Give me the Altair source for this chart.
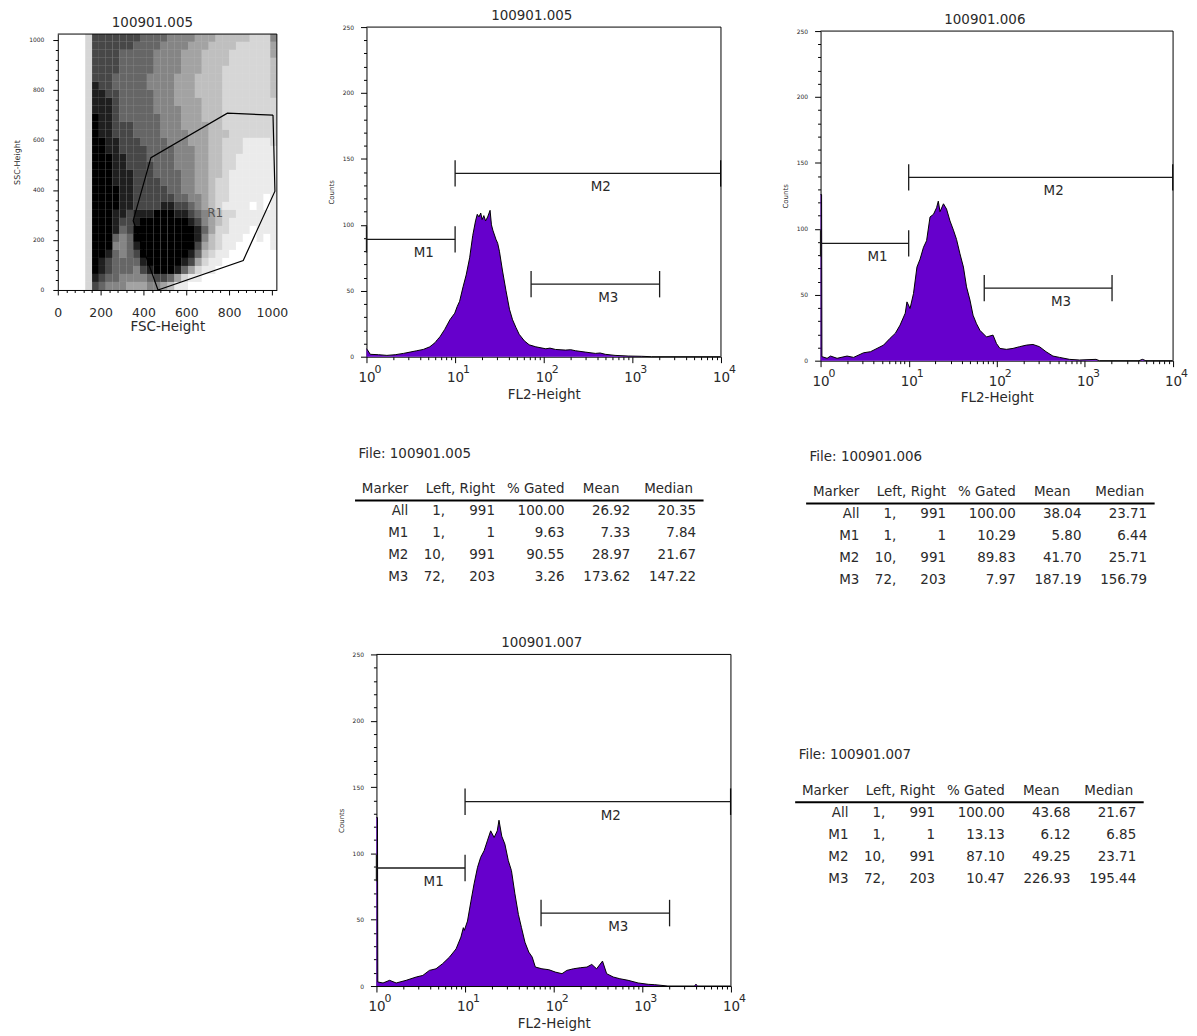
import math
import pandas as pd
import altair as alt

FONT = "DejaVu Sans"
TXT = "#2a2a2a"
FILL = "#6600cc"

# ---------------- scatter plot (FSC-Height vs SSC-Height), 100901.005 ----------------
SCATTER_FILE = "100901.005"
# darkness, 0 (empty) .. 9 (solid black)
# row 0 = top (SSC 992-1023), column 0 = FSC 0-31, 32 channels per cell
SCATTER_DENSITY = [
    "00002" "77777" "776666555544" "4333332225",
    "00002" "77777" "766665555444" "3333222224",
    "00002" "77776" "666655554443" "3332222224",
    "00002" "77776" "666655554443" "3332222223",
    "00002" "77776" "666655554443" "3322222223",
    "00002" "77766" "666555544433" "3322222223",
    "00002" "87766" "666555544433" "3322222223",
    "00002" "88776" "666655544433" "3322222223",
    "00002" "88876" "666655544443" "3322222222",
    "00002" "88876" "666655554443" "3322222222",
    "00002" "98876" "666665554443" "3322222222",
    "00002" "98877" "766665554444" "3322222222",
    "00002" "98877" "766665555444" "3332222222",
    "00002" "99887" "776666555444" "3322211112",
    "00002" "99887" "777666655544" "3322211111",
    "00002" "99988" "777666655544" "3322111111",
    "00002" "99988" "777766655544" "3322111111",
    "00002" "99988" "877766665544" "3321111111",
    "00002" "99988" "877776665544" "3221111111",
    "00002" "99998" "877777665544" "3221111111",
    "00002" "99998" "877777766554" "3221111101",
    "00002" "99998" "877778877654" "3211110101",
    "00002" "99988" "788899988765" "4322111111",
    "00002" "99987" "789999999875" "4321111111",
    "00002" "99986" "799999999986" "4221110111",
    "00002" "99965" "699999999985" "3211100101",
    "00002" "99955" "689999999974" "3211000001",
    "00002" "99865" "679999999863" "2110000000",
    "00002" "98766" "668999998742" "1100000000",
    "00002" "98766" "657899986421" "1000000000",
    "00002" "87665" "555677642110" "0000000000",
    "00002" "76555" "444554311000" "0000000000",
]
GATE_FSC = [1005, 792, 435, 352, 468, 866, 1014, 1005]
GATE_SSC = [699, 707, 529, 277, 0, 118, 395, 699]
GATE_NAME = ["R1"]
GATE_NAME_FSC = [735]
GATE_NAME_SSC = [306]

# ---------------- histograms: (channel 0..1023, counts) ----------------
HIST_005 = [
    (0, 6), (2, 5.5), (11, 1.8), (35, 1.5), (59, 1), (83, 1.5), (107, 2.5), (126, 3.5),
    (145, 4.5), (164, 5.5), (183, 7.5), (190, 9), (198, 10.6), (205, 13), (212, 15),
    (226, 20.7), (241, 28), (255, 33), (262, 38), (269, 42), (279, 53), (288, 62),
    (298, 75), (307, 92), (315, 103), (320, 108), (325, 106), (330, 109), (334, 104),
    (339, 107), (344, 103), (350, 106), (357, 111), (361, 100), (365, 96), (374, 89),
    (379, 86), (384, 80), (393, 65), (403, 50), (413, 36), (422, 28), (432, 22),
    (441, 17), (456, 12), (470, 9), (489, 7.5), (518, 6), (530, 6.5), (546, 5.5),
    (575, 5), (590, 5.3), (604, 4.5), (632, 3.5), (661, 2.5), (675, 2.8), (690, 1.8),
    (718, 1), (756, 0.5), (795, 0.3), (823, 0), (1023, 0),
]
HIST_006 = [
    (0, 126), (3, 126), (4, 3), (5, 3), (19, 1.8), (29, 3.5), (48, 1.8), (77, 3.5), (96, 2.5),
    (125, 6), (145, 6.8), (164, 9.3), (183, 11.8), (202, 17), (217, 20.7), (231, 27),
    (246, 36), (251, 44.6), (260, 39.6), (270, 51), (280, 71), (289, 77), (299, 86),
    (308, 91), (318, 109), (328, 111), (337, 116), (342, 121), (347, 113), (357, 119),
    (366, 115), (376, 106), (386, 99), (395, 92), (405, 81), (415, 71), (424, 56),
    (434, 46), (443, 34.5), (453, 28), (463, 23), (482, 18), (501, 19.4), (511, 13),
    (521, 9.3), (540, 8.6), (559, 9.3), (578, 10.6), (598, 11.8), (617, 12.3),
    (636, 10.6), (655, 6.8), (675, 3.5), (694, 2.5), (723, 1), (752, 0.5), (800, 1),
    (810, 0), (925, 0), (935, 1), (945, 0), (1023, 0),
]
HIST_007 = [
    (0, 127), (3, 127), (4, 3), (5, 3), (19, 2.3), (38, 4.3), (57, 2.3), (86, 4.3), (115, 6.8),
    (134, 8), (153, 11.8), (172, 13), (191, 16.8), (211, 21.8), (230, 28), (244, 36.9),
    (251, 44), (254, 42), (263, 49), (273, 64), (282, 77), (292, 89.5), (301, 97),
    (311, 102), (321, 110), (330, 117), (340, 112), (349, 117), (354, 125), (362, 113),
    (371, 107), (381, 94.5), (390, 87), (400, 69.5), (410, 54), (419, 44), (429, 33),
    (440, 25.6), (450, 21.8), (459, 14.3), (478, 13), (498, 12.3), (517, 10.5),
    (536, 9.3), (550, 11.8), (569, 13), (589, 13.8), (608, 14.3), (622, 16.3),
    (636, 13), (653, 18.8), (665, 9.3), (684, 6.8), (703, 5.5), (727, 4.3), (756, 2.3),
    (785, 1.3), (804, 1), (842, 0), (918, 0), (923, 1.3), (928, 0), (1023, 0),
]

MARKER_NAMES = ["M1", "M2", "M3"]
MARKER_LEFT = [1, 10, 72]
MARKER_RIGHT = [10, 9910, 2030]

# ---------------- statistics tables ----------------
HEADERS = ["Marker", "Left, Right", "% Gated", "Mean", "Median"]
ROW_NAMES = ["All", "M1", "M2", "M3"]
LEFTS = ["1,", "1,", "10,", "72,"]
RIGHTS = ["991", "1", "991", "203"]
GATED_005 = ["100.00", "9.63", "90.55", "3.26"]
MEAN_005 = ["26.92", "7.33", "28.97", "173.62"]
MEDIAN_005 = ["20.35", "7.84", "21.67", "147.22"]
GATED_006 = ["100.00", "10.29", "89.83", "7.97"]
MEAN_006 = ["38.04", "5.80", "41.70", "187.19"]
MEDIAN_006 = ["23.71", "6.44", "25.71", "156.79"]
GATED_007 = ["100.00", "13.13", "87.10", "10.47"]
MEAN_007 = ["43.68", "6.12", "49.25", "226.93"]
MEDIAN_007 = ["21.67", "6.85", "23.71", "195.44"]

# ---------------- styling / layout constants ----------------
MARKER_LEVEL = [89, 139, 55]
TICK_HALF = 10
OPAC = [0, 0.08, 0.16, 0.25, 0.36, 0.48, 0.6, 0.72, 0.88, 1.0]
COL_X = {"Marker": 54, "Left": 91, "Right": 141, "Gated": 211, "Mean": 277, "Median": 343}
HEAD_X = [54, 141, 211, 266, 340]
TABLE_W = 350

for s in SCATTER_DENSITY:
    assert len(s) == 32, s


def tick_cond(test, major, minor):
    return {"condition": {"test": test, "value": major}, "value": minor}


def ttl(text, dx, dy, offset, anchor="middle"):
    return alt.TitleParams(text, frame="group", anchor=anchor, dx=dx, dy=dy, offset=offset,
                           fontSize=13.5, font=FONT, fontWeight="normal", color=TXT)


def spacer(w, h):
    return alt.Chart(pd.DataFrame({"s": [0]})).mark_point(opacity=0).properties(
        width=w, height=h, view=alt.ViewBackground(stroke="transparent"))


def frame_layers(X, Y, xmin, xmax, ymin, ymax):
    top = alt.Chart(pd.DataFrame({"x": [xmin], "x2": [xmax], "y": [ymax]})).mark_rule(
        color="black", strokeWidth=1).encode(x=X("x"), x2="x2", y=Y("y"))
    right = alt.Chart(pd.DataFrame({"x": [xmax], "y": [ymin], "y2": [ymax]})).mark_rule(
        color="black", strokeWidth=1).encode(x=X("x"), y=Y("y"), y2="y2")
    return [top, right]


# ---------- scatter ----------
def scatter_chart(w, h, ox, oy):
    cells = []
    for r, row in enumerate(SCATTER_DENSITY):
        for c, ch in enumerate(row):
            d = int(ch)
            if d == 0:
                continue
            cells.append({"x": c * 32, "x2": min(c * 32 + 32, 1023),
                          "y": 1024 - (r + 1) * 32, "y2": min(1024 - r * 32, 1023), "op": OPAC[d]})
    cdf = pd.DataFrame(cells)
    gdf = pd.DataFrame({"x": GATE_FSC, "y": GATE_SSC, "i": list(range(len(GATE_FSC)))})
    ldf = pd.DataFrame({"x": GATE_NAME_FSC, "y": GATE_NAME_SSC, "t": GATE_NAME})
    sx = alt.Scale(domain=[0, 1023], nice=False, zero=False, range=[ox, ox + w])
    sy = alt.Scale(domain=[0, 1023], nice=False, zero=False, range=[oy + h, oy])
    maj = "datum.value % 200 === 0"
    ax = alt.Axis(values=list(range(0, 1001, 40)), labelExpr=f"{maj} ? '' + datum.value : ''",
                  tickSize=tick_cond(maj, 5, 2.5), labelFontSize=12.5, labelPadding=12,
                  labelFlush=False, labelOverlap=False, title="FSC-Height",
                  titleFontSize=13.5, titlePadding=0)
    ay = alt.Axis(values=list(range(0, 1001, 40)), labelExpr=f"{maj} ? '' + datum.value : ''",
                  tickSize=tick_cond(maj, 5, 2.5), labelFontSize=6, labelPadding=9,
                  labelOverlap=False, title="SSC-Height", titleFontSize=8, titlePadding=7,
                  offset=-ox)
    X = lambda f: alt.X(f, type="quantitative", scale=sx, axis=ax)
    Y = lambda f: alt.Y(f, type="quantitative", scale=sy, axis=ay)
    rects = alt.Chart(cdf).mark_rect(color="black").encode(
        x=X("x"), x2="x2", y=Y("y"), y2="y2", opacity=alt.Opacity("op:Q", scale=None, legend=None))
    gate = alt.Chart(gdf).mark_line(color="black", strokeWidth=1.2).encode(
        x=X("x"), y=Y("y"), order="i:Q")
    lab = alt.Chart(ldf).mark_text(fontSize=12, font=FONT, color="#555").encode(
        x=X("x"), y=Y("y"), text="t:N")
    layers = [rects, gate, lab] + frame_layers(X, Y, 0, 1023, 0, 1023)
    return alt.layer(*layers).properties(
        width=ox + w, height=oy + h,
        title=ttl(SCATTER_FILE, -15 + ox / 2, max(0, oy - 3), 2),
        view=alt.ViewBackground(stroke="transparent"))


# ---------- histograms ----------
LOG_MAJOR = [1, 10, 100, 1000, 10000]
LOG_TICKS = sorted(set([k * 10 ** d for d in range(4) for k in range(1, 10)] + [10000]))
MAJ = "indexof([1,10,100,1000,10000], datum.value) >= 0"


def hist_chart(fname, pairs, w, h, ox, oy):
    xs = alt.Scale(type="log", domain=[1, 10000], nice=False, range=[ox, ox + w])
    ys = alt.Scale(domain=[0, 250], nice=False, zero=False, range=[oy + h, oy])
    xa = alt.Axis(values=LOG_TICKS, labelExpr=f"{MAJ} ? '10' : ''", tickSize=tick_cond(MAJ, 6, 3),
                  labelFontSize=13.5, labelPadding=8, labelFlush=False, labelOverlap=False,
                  title="FL2-Height", titleFontSize=13.5, titlePadding=3)
    ymaj = "datum.value % 50 === 0"
    ya = alt.Axis(values=list(range(0, 251, 10)), labelExpr=f"{ymaj} ? '' + datum.value : ''",
                  tickSize=tick_cond(ymaj, 6, 3), labelFontSize=6, labelPadding=7,
                  labelOverlap=False, title="Counts", titleFontSize=7, titlePadding=8,
                  offset=-ox)
    X = lambda f: alt.X(f, type="quantitative", scale=xs, axis=xa)
    Y = lambda f: alt.Y(f, type="quantitative", scale=ys, axis=ya)

    df = pd.DataFrame({"x": [10 ** (c / 256) for c, _ in pairs], "y": [v for _, v in pairs]})
    area = alt.Chart(df).mark_area(color=FILL, opacity=1, fillOpacity=1, interpolate="linear",
                                   line={"color": "black", "strokeWidth": 1}).encode(x=X("x"), y=Y("y"))
    mk = pd.DataFrame({"x": MARKER_LEFT, "x2": MARKER_RIGHT, "y": MARKER_LEVEL})
    hrule = alt.Chart(mk).mark_rule(color="#1a1a1a", strokeWidth=1.3).encode(x=X("x"), x2="x2", y=Y("y"))
    ends = pd.DataFrame({"x": MARKER_LEFT + MARKER_RIGHT,
                         "y": [l - TICK_HALF for l in MARKER_LEVEL] * 2,
                         "y2": [l + TICK_HALF for l in MARKER_LEVEL] * 2})
    vrule = alt.Chart(ends).mark_rule(color="#1a1a1a", strokeWidth=1.3).encode(x=X("x"), y=Y("y"), y2="y2")
    lbl = pd.DataFrame({"x": [math.sqrt(a * b) for a, b in zip(MARKER_LEFT, MARKER_RIGHT)],
                        "y": MARKER_LEVEL, "t": MARKER_NAMES})
    labels = alt.Chart(lbl).mark_text(dx=13, dy=14, fontSize=13.5, font=FONT, color=TXT).encode(
        x=X("x"), y=Y("y"), text="t:N")
    edf = pd.DataFrame({"x": LOG_MAJOR, "t": ["0", "1", "2", "3", "4"]})
    exps = alt.Chart(edf).mark_text(align="left", baseline="middle", dx=8, fontSize=11,
                                    font=FONT, color=TXT).encode(
        x=X("x"), y=alt.value(oy + h + 13), text="t:N")
    layers = [area, hrule, vrule, labels, exps] + frame_layers(X, Y, 1, 10000, 0, 250)
    return alt.layer(*layers).properties(
        width=ox + w, height=oy + h,
        title=ttl(fname, -12 + ox / 2, max(0, oy - 3), 2),
        view=alt.ViewBackground(stroke="transparent"))


# ---------- tables ----------
def table_chart(fname, gated, mean, median, ox, oy, w, h):
    recs = []
    for i, r in enumerate(ROW_NAMES):
        for key, val in (("Marker", r), ("Left", LEFTS[i]), ("Right", RIGHTS[i]),
                         ("Gated", gated[i]), ("Mean", mean[i]), ("Median", median[i])):
            recs.append({"row": r, "xp": COL_X[key], "txt": val})
    for hx, ht in zip(HEAD_X, HEADERS):
        recs.append({"row": "hdr", "xp": hx, "txt": ht})
    df = pd.DataFrame(recs)
    return alt.Chart(df).mark_text(align="right", baseline="middle", font=FONT, fontSize=13.5,
                                   color=TXT).encode(
        x=alt.X("xp:Q", scale=alt.Scale(domain=[0, TABLE_W], nice=False, zero=False,
                                        range=[ox, ox + TABLE_W]),
                axis=alt.Axis(orient="top", labels=False, ticks=False, grid=False, domainWidth=2,
                              domainColor="black", title=None, offset=-oy)),
        y=alt.Y("row:N", scale=alt.Scale(type="point", domain=["hdr"] + ROW_NAMES,
                                         range=[oy - 11, oy + 77.5], padding=0), axis=None),
        text="txt:N",
    ).properties(width=w, height=h,
                 title=ttl(f"File: {fname}", ox + 4, oy - 18, 22, anchor="start"),
                 view=alt.ViewBackground(stroke="transparent"))


scatter = scatter_chart(220, 257, 0, 7)
h1 = hist_chart("100901.005", HIST_005, 356, 331, 0, 0)
h2 = hist_chart("100901.006", HIST_006, 354, 331, 0, 4)
h3 = hist_chart("100901.007", HIST_007, 356, 333, 10, 0)
t1 = table_chart("100901.005", GATED_005, MEAN_005, MEDIAN_005, -12, 140, 300, 295)
t2 = table_chart("100901.006", GATED_006, MEAN_006, MEDIAN_006, -15, 143, 300, 295)
t3 = table_chart("100901.007", GATED_007, MEAN_007, MEDIAN_007, -26, 148, 300, 1)

S = spacer
cells = [
    scatter,    S(90, 1), h1, S(90, 1), h2,
    S(220, 1),  S(90, 1), t1, S(90, 1), t2,
    S(220, 1),  S(90, 1), h3, S(90, 1), t3,
]

chart = alt.concat(*cells, columns=5, spacing=0, bounds="flush", align="each").properties(
    padding={"left": 5, "top": -2, "right": 0, "bottom": 0}
).configure_view(stroke="transparent").configure_axis(
    labelFont=FONT, titleFont=FONT, labelColor=TXT, titleColor=TXT, domainColor="black",
    tickColor="black", grid=False, titleFontWeight="normal", domainWidth=1, tickWidth=1)

chart.save("out.html", embed_options={"renderer": "svg", "actions": False})
